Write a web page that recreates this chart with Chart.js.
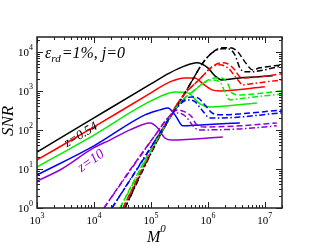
<!DOCTYPE html>
<html>
<head>
<meta charset="utf-8">
<script src="https://cdn.jsdelivr.net/npm/chart.js@4.4.0/dist/chart.umd.min.js"></script>
<style>
  body { margin: 0; background: #fff; }
</style>
</head>
<body>
<canvas id="myChart" width="317" height="245"></canvas>
<script>
'use strict';
// axis ranges
let xMin = 1e3, xMax = 2e7;
let yMin = 1, yMax = 2.4e4;
let xDecades = [3, 4, 5, 6, 7];
let yDecades = [0, 1, 2, 3, 4];

// solid curves, one per redshift  [M0, SNR]
let blackSolid = [[1e3, 27], [1e4, 203], [1e5, 1510], [2.15e5, 2900], [3.95e5, 4370], [6.41e5, 5220], [1e6, 3890], [1.33e6, 2430], [1.76e6, 1910], [3.64e6, 2150], [1.38e7, 2430]];
let redSolid = [[1e3, 17], [1e4, 119], [1e5, 889], [2.15e5, 1700], [3.95e5, 2150], [5.91e5, 2150], [8.17e5, 1510], [1.18e6, 1060], [1.62e6, 1000], [1e7, 1270]];
let greenSolid = [[1e3, 11.2], [1e4, 74], [1e5, 554], [2.64e5, 943], [4.46e5, 889], [7.24e5, 464], [1.08e6, 389], [7.24e6, 492]];
let blueSolid = [[1e3, 7], [1e4, 39], [7.85e4, 243], [1.44e5, 326], [1.99e5, 367], [2.64e5, 243], [3.64e5, 127], [7.24e5, 134], [3.64e6, 151]];
let purpleSolid = [[1e3, 4.9], [2.53e3, 9.4], [1e4, 35], [1.9e4, 55], [4.29e4, 100], [9.6e4, 151], [1.27e5, 119], [1.76e5, 62], [2.34e5, 55], [1.83e6, 66]];

// dashed curves
let blackDash = [[3.5e4, 1], [7.85e4, 12.7], [1.56e5, 89], [4.46e5, 1190], [8.17e5, 5220], [1.18e6, 9430], [1.76e6, 12670], [2.43e6, 12670], [3.36e6, 10000], [4.46e6, 5540], [6.15e6, 3450], [8.17e6, 3890], [2e7, 4640]];
let redDash = [[3.23e4, 1], [7.85e4, 14], [1.56e5, 94], [3.23e5, 588], [7.85e5, 2290], [1.18e6, 4120], [1.76e6, 5220], [2.24e6, 4920], [2.98e6, 3450], [3.64e6, 2290], [4.46e6, 2150], [2e7, 2730]];
let greenDash = [[2.86e4, 1], [7.85e4, 17], [1.56e5, 94], [3.23e5, 492], [5.91e5, 1060], [8.86e5, 1700], [1.33e6, 2150], [1.76e6, 2150], [2.24e6, 1510], [2.64e6, 889], [3.64e6, 790], [2e7, 1000]];
let blueDash = [[2.07e4, 1], [6.4e4, 12.7], [1.56e5, 100], [2.64e5, 326], [3.95e5, 624], [5.24e5, 702], [6.68e5, 662], [8.86e5, 437], [1.18e6, 273], [1.62e6, 243], [3.64e6, 257], [2e7, 326]];
let purpleDash = [[1.5e4, 1], [4.29e4, 9.4], [1.27e5, 84], [1.99e5, 203], [2.98e5, 326], [3.95e5, 290], [5.24e5, 215], [6.15e5, 143], [8.86e5, 119], [3.64e6, 127], [1.62e7, 151]];

// dash-dot curves
let blackDot = [[3.5e4, 1], [1.56e5, 89], [4.46e5, 1190], [8.17e5, 5220], [1.18e6, 9430], [1.76e6, 11940], [2.24e6, 12000], [2.98e6, 8380], [3.64e6, 3890], [4.46e6, 3070], [5.46e6, 3070], [2e7, 4370]];
let redDot = [[3.23e4, 1], [1.56e5, 94], [3.23e5, 588], [7.85e5, 2290], [1.18e6, 4120], [1.62e6, 4640], [2.24e6, 3890], [3.36e6, 1910], [4.11e6, 1420], [5.46e6, 1510], [2e7, 1910]];
let greenDot = [[2.86e4, 1], [1.56e5, 94], [3.23e5, 492], [5.91e5, 1060], [8.86e5, 1650], [1.18e6, 1910], [1.62e6, 1700], [1.99e6, 943], [2.43e6, 588], [3.36e6, 624], [2e7, 838]];
let blueDot = [[2.07e4, 1], [1.56e5, 100], [2.64e5, 326], [4.46e5, 588], [5.91e5, 530], [7.85e5, 326], [1.08e6, 203], [1.62e6, 203], [2e7, 273]];
let purpleDot = [[1.5e4, 1], [1.27e5, 84], [1.99e5, 203], [2.75e5, 273], [3.95e5, 230], [5.91e5, 113], [7.24e5, 100], [3.64e6, 106], [1.62e7, 127]];

let black = '#000000', red = '#ff0000', green = '#00ee00', blue = '#0000ff', purple = '#9400d3';
let dashed = [6, 3];
let dashDot = [6, 2.5, 1.5, 2.5];

function series(pts, color, dash) {
    return {
        data: pts.map(p => ({ x: p[0], y: p[1] })),
        borderColor: color,
        borderWidth: 1.5,
        borderDash: dash,
        pointRadius: 0,
        fill: false,
        cubicInterpolationMode: 'monotone'
    };
}

let datasets = [
    series(purpleDot, purple, dashDot), series(blueDot, blue, dashDot), series(greenDot, green, dashDot),
    series(redDot, red, dashDot), series(blackDot, black, dashDot),
    series(purpleDash, purple, dashed), series(blueDash, blue, dashed), series(greenDash, green, dashed),
    series(redDash, red, dashed), series(blackDash, black, dashed),
    series(purpleSolid, purple, []), series(blueSolid, blue, []), series(greenSolid, green, []),
    series(redSolid, red, []), series(blackSolid, black, [])
];

let serif = '"Liberation Serif", "DejaVu Serif", serif';

function power(ctx, exp, x, y, align) {
    ctx.font = '11px ' + serif;
    let w1 = ctx.measureText('10').width;
    ctx.font = '8px ' + serif;
    let w2 = ctx.measureText(exp).width;
    let start = align === 'right' ? x - w1 - w2 : x - (w1 + w2) / 2;
    ctx.textAlign = 'left';
    ctx.font = '11px ' + serif;
    ctx.fillText('10', start, y);
    ctx.font = '8px ' + serif;
    ctx.fillText(exp, start + w1, y - 6);
}

let framePlugin = {
    id: 'frame',
    afterDraw(chart) {
        let ctx = chart.ctx;
        let a = chart.chartArea;
        let xs = chart.scales.x, ys = chart.scales.y;
        ctx.save();
        ctx.strokeStyle = '#222';
        ctx.lineWidth = 1.5;
        ctx.strokeRect(a.left, a.top, a.right - a.left, a.bottom - a.top);

        ctx.lineWidth = 1;
        ctx.beginPath();
        // x ticks, bottom and top
        for (let k = 3; k <= 7; k++) {
            for (let m = 1; m <= 9; m++) {
                let v = m * Math.pow(10, k);
                if (v > xMax) break;
                let px = Math.round(xs.getPixelForValue(v)) + 0.5;
                let len = m === 1 ? 6 : 3;
                ctx.moveTo(px, a.bottom); ctx.lineTo(px, a.bottom - len);
                ctx.moveTo(px, a.top); ctx.lineTo(px, a.top + len);
            }
        }
        // y ticks, left and right
        for (let k = 0; k <= 4; k++) {
            for (let m = 1; m <= 9; m++) {
                let v = m * Math.pow(10, k);
                if (v > yMax) break;
                let py = Math.round(ys.getPixelForValue(v)) + 0.5;
                let len = m === 1 ? 6 : 3;
                ctx.moveTo(a.left, py); ctx.lineTo(a.left + len, py);
                ctx.moveTo(a.right, py); ctx.lineTo(a.right - len, py);
            }
        }
        ctx.stroke();

        ctx.fillStyle = '#000';
        ctx.textBaseline = 'alphabetic';
        for (let k of xDecades) {
            power(ctx, String(k), xs.getPixelForValue(Math.pow(10, k)), 224, 'center');
        }
        for (let k of yDecades) {
            power(ctx, String(k), 33, ys.getPixelForValue(Math.pow(10, k)) + 4, 'right');
        }

        // header text
        ctx.textAlign = 'left';
        ctx.font = 'italic 16px ' + serif;
        ctx.fillText('\u03b5', 45, 58);
        let wEps = ctx.measureText('\u03b5').width;
        ctx.font = 'italic 11px ' + serif;
        ctx.fillText('rd', 45 + wEps, 62);
        let wRd = ctx.measureText('rd').width;
        ctx.font = 'italic 16px ' + serif;
        ctx.fillText('=1%, j=0', 45 + wEps + wRd + 1, 58);

        // axis titles
        ctx.save();
        ctx.translate(13, 121);
        ctx.rotate(-Math.PI / 2);
        ctx.textAlign = 'center';
        ctx.font = 'italic 17px ' + serif;
        ctx.fillText('SNR', 0, 0);
        ctx.restore();

        ctx.font = 'italic 16px ' + serif;
        ctx.fillText('M', 147, 242);
        let wM = ctx.measureText('M').width;
        ctx.font = 'italic 11px ' + serif;
        ctx.fillText('0', 147 + wM, 232);

        // redshift labels
        ctx.save();
        ctx.translate(81, 135);
        ctx.rotate(-31 * Math.PI / 180);
        ctx.textAlign = 'center';
        ctx.textBaseline = 'middle';
        ctx.font = 'italic 13px ' + serif;
        ctx.fillStyle = black;
        ctx.fillText('z=0.54', 0, 0);
        ctx.restore();

        ctx.save();
        ctx.translate(91, 161);
        ctx.rotate(-35 * Math.PI / 180);
        ctx.textAlign = 'center';
        ctx.textBaseline = 'middle';
        ctx.font = 'italic 14px ' + serif;
        ctx.fillStyle = purple;
        ctx.fillText('z=10', 0, 0);
        ctx.restore();

        ctx.restore();
    }
};

let ctx = document.getElementById('myChart').getContext('2d');
let myChart = new Chart(ctx, {
    type: 'line',
    data: { datasets: datasets },
    options: {
        responsive: false,
        animation: false,
        layout: { padding: { left: 37, right: 35, top: 37, bottom: 37 } },
        scales: {
            x: { type: 'logarithmic', min: xMin, max: xMax, display: false },
            y: { type: 'logarithmic', min: yMin, max: yMax, display: false }
        },
        plugins: { legend: { display: false }, tooltip: { enabled: false } }
    },
    plugins: [framePlugin]
});
</script>
</body>
</html>
